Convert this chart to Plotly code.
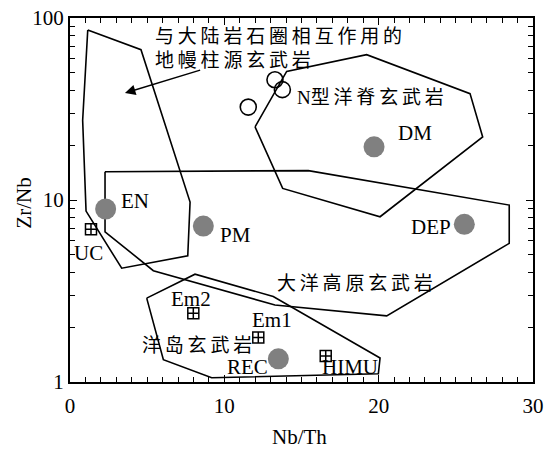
import numpy as np
import plotly.graph_objects as go

# Field outlines (Nb/Th, Zr/Nb)
plume_x = [1.15, 4.60, 7.78, 7.63, 3.35, 1.04, 0.82]
plume_y = [86.0, 67.0, 9.74, 4.93, 4.22, 8.69, 27.4]

plateau_x = [2.27, 15.44, 28.46, 28.46, 20.52, 13.28, 5.40, 2.27]
plateau_y = [14.3, 14.5, 9.38, 5.78, 2.31, 2.65, 4.09, 6.69]

nmorb_x = [11.99, 14.04, 19.22, 25.92, 26.74, 20.09, 13.78]
nmorb_y = [25.2, 50.9, 62.9, 38.4, 22.2, 8.09, 11.58]

oib_x = [4.97, 8.10, 13.17, 20.09, 19.98, 9.18, 6.05]
oib_y = [2.89, 3.91, 2.95, 1.354, 1.11, 1.055, 1.325]

# N-MORB samples
sample_x = [13.28, 13.76, 11.55]
sample_y = [45.8, 40.4, 32.4]

# Mantle reservoirs
res_names = ["EN", "PM", "DM", "DEP", "REC"]
res_x = [2.31, 8.64, 19.7, 25.55, 13.5]
res_y = [8.92, 7.19, 19.6, 7.35, 1.34]

# Crustal / enriched end-members
end_names = ["UC", "Em2", "Em1", "HIMU"]
end_x = [1.36, 7.99, 12.2, 16.57]
end_y = [6.90, 2.39, 1.756, 1.39]

x_ticks = [0, 10, 20, 30]
y_ticks = [1, 10, 100]

SERIF = "Liberation Serif, Noto Sans CJK SC"
THIN = "\u2009"


def spaced(s):
    return THIN.join(s)


def closed(xs, ys):
    return xs + xs[:1], ys + ys[:1]


fig = go.Figure()

for xs, ys in [(plume_x, plume_y), (plateau_x, plateau_y),
               (nmorb_x, nmorb_y), (oib_x, oib_y)]:
    cx, cy = closed(xs, ys)
    fig.add_trace(go.Scatter(x=cx, y=cy, mode="lines",
                             line=dict(color="black", width=1.6),
                             hoverinfo="skip", showlegend=False))

fig.add_trace(go.Scatter(x=sample_x, y=sample_y, mode="markers",
                         marker=dict(symbol="circle-open", size=16,
                                     color="black", line=dict(width=1.6)),
                         showlegend=False))

fig.add_trace(go.Scatter(x=res_x, y=res_y, mode="markers",
                         marker=dict(symbol="circle", size=21, color="#808080",
                                     line=dict(width=0)),
                         showlegend=False))

fig.add_trace(go.Scatter(x=end_x, y=end_y, mode="markers",
                         marker=dict(symbol="square-cross-open", size=11,
                                     color="black", line=dict(width=1.5)),
                         showlegend=False))

# Empty trace that carries the top / right tick axes
fig.add_trace(go.Scatter(x=[None], y=[None], xaxis="x2", yaxis="y2",
                         showlegend=False, hoverinfo="skip"))

# Text labels: (text, x, y, xanchor, size)
labels = [
    ("EN", 3.2, 9.90, "left", 21),
    ("PM", 9.59, 6.41, "left", 21),
    ("DM", 21.12, 23.4, "left", 21),
    ("DEP", 24.82, 7.14, "right", 21),
    ("UC", 1.23, 5.10, "center", 21),
    ("Em2", 7.84, 2.86, "center", 21),
    ("Em1", 11.66, 2.195, "left", 21),
    ("REC", 12.96, 1.215, "right", 21),
    ("HIMU", 16.2, 1.208, "left", 21),
    (spaced("洋岛玄武岩"), 4.54, 1.58, "left", 19),
    (spaced("大洋高原玄武岩"), 13.28, 3.49, "left", 19),
    ("N" + spaced("型洋脊玄武岩"), 14.58, 36.6, "left", 19),
    (spaced("与大陆岩石圈相互作用的"), 5.38, 79.0, "left", 19),
    (spaced("地幔柱源玄武岩"), 5.38, 58.5, "left", 19),
]
for text, x, y, xa, sz in labels:
    fig.add_annotation(x=x, y=np.log10(y), text=text, showarrow=False,
                       xanchor=xa, yanchor="middle",
                       font=dict(family=SERIF, size=sz, color="black"))

# Pointer to the plume field
fig.add_annotation(x=3.56, y=np.log10(38.7), ax=8.53, ay=np.log10(52.0),
                   axref="x", ayref="y", text="", showarrow=True,
                   arrowhead=2, arrowsize=1.4, arrowwidth=1.5,
                   arrowcolor="black")

# Axis titles
fig.add_annotation(xref="paper", yref="paper", x=0.495, y=0, yshift=-55,
                   text="Nb/Th", showarrow=False, xanchor="center",
                   yanchor="middle",
                   font=dict(family=SERIF, size=21, color="black"))
fig.add_annotation(xref="paper", yref="paper", x=0, y=0.49, xshift=-46,
                   text="Zr/Nb", showarrow=False, textangle=-90,
                   xanchor="center", yanchor="middle",
                   font=dict(family=SERIF, size=21, color="black"))

tick_common = dict(ticks="inside", tickcolor="black", tickwidth=1.3,
                   ticklen=7, showgrid=False, zeroline=False,
                   automargin=False)
minor_x = dict(dtick=1, ticks="inside", ticklen=5,
               tickcolor="black", tickwidth=1.2)
minor_y = dict(dtick="D1", ticks="inside", ticklen=5,
               tickcolor="black", tickwidth=1.2)

fig.update_layout(
    width=554, height=449,
    margin=dict(l=70, r=21, t=18, b=67),
    paper_bgcolor="white", plot_bgcolor="white",
    showlegend=False,
    xaxis=dict(range=[0, 30], tickvals=x_ticks,
               ticktext=[str(v) for v in x_ticks],
               showline=True, linecolor="black", linewidth=2, mirror=True,
               minor=minor_x, ticklabelstandoff=4,
               tickfont=dict(family=SERIF, size=21, color="black"),
               **tick_common),
    yaxis=dict(type="log", range=[0, 2], tickvals=y_ticks,
               ticktext=[str(v) for v in y_ticks],
               showline=True, linecolor="black", linewidth=2, mirror=True,
               minor=minor_y,
               tickfont=dict(family=SERIF, size=21, color="black"),
               **tick_common),
    xaxis2=dict(range=[0, 30], tickvals=x_ticks, overlaying="x",
                side="top", showticklabels=False, minor=minor_x,
                **tick_common),
    yaxis2=dict(type="log", range=[0, 2], tickvals=y_ticks, overlaying="y",
                side="right", showticklabels=False, minor=minor_y,
                **tick_common),
)

fig.write_html("out.html")
